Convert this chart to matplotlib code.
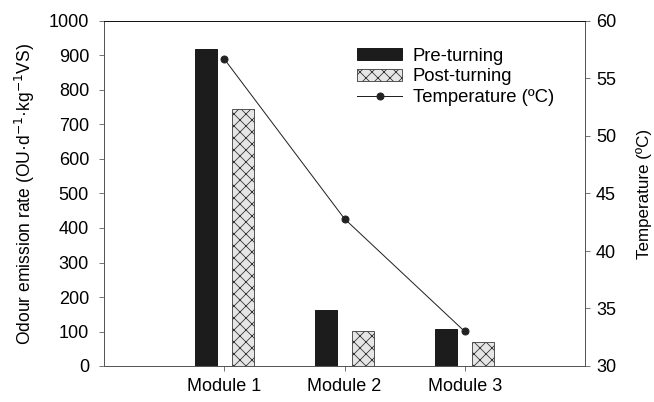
import numpy as np
import matplotlib
matplotlib.use("Agg")
import matplotlib.pyplot as plt

modules = ["Module 1", "Module 2", "Module 3"]
pre_turning = [920, 161, 107]
post_turning = [746, 102, 71]
temperature = [56.7, 42.8, 33.0]

plt.rcParams['font.family'] = ['Liberation Sans', 'DejaVu Sans']
plt.rcParams['font.size'] = 18
plt.rcParams['hatch.linewidth'] = 0.8

fig = plt.figure(figsize=(654 / 72, 402 / 72), dpi=72)
ax = fig.add_axes([104 / 654, 36 / 402, 481 / 654, 345 / 402])

x = np.arange(1, len(modules) + 1)
w = 0.185
ax.bar(x - 0.153, pre_turning, w, color='#1c1c1c', edgecolor='#1c1c1c',
       label='Pre-turning', zorder=2)
ax.bar(x + 0.153, post_turning, w, color='#e6e6e6', edgecolor='#333333',
       hatch='xx', linewidth=0.8, label='Post-turning', zorder=2)
ax.set_xlim(0, 4)
ax.set_ylim(0, 1000)
ax.set_yticks(np.arange(0, 1001, 100))
ax.set_xticks(x)
ax.set_xticklabels(modules)
ax.set_ylabel('Odour emission rate (OU·d$^{-1}$·kg$^{-1}$VS)', fontsize=17.5,
              labelpad=12)

ax2 = ax.twinx()
ax2.plot(x, temperature, color='#222222', lw=1, marker='o', markersize=7,
         label='Temperature (ºC)')
ax2.set_ylim(30, 60)
ax2.set_yticks(np.arange(30, 61, 5))
ax2.set_ylabel('Temperature (ºC)', fontsize=17, labelpad=20)

for a in (ax, ax2):
    a.tick_params(direction='out', length=5, width=0.8, color='#555555', pad=6)
    for s in a.spines.values():
        s.set_linewidth(0.9)
        s.set_color('#555555')
ax.tick_params(axis='y', pad=10)
ax.tick_params(axis='x', pad=7)
ax.spines['top'].set_color('#111111')
ax2.spines['top'].set_color('#111111')

h1, l1 = ax.get_legend_handles_labels()
h2, l2 = ax2.get_legend_handles_labels()
ax2.legend(h1 + h2, l1 + l2, loc='upper left', bbox_to_anchor=(0.5, 0.96),
           frameon=False, handlelength=2.4, handleheight=0.6, handletextpad=0.6,
           labelspacing=0.2, borderpad=0.2, fontsize=18.5)

fig.savefig('out.png', dpi=72)
